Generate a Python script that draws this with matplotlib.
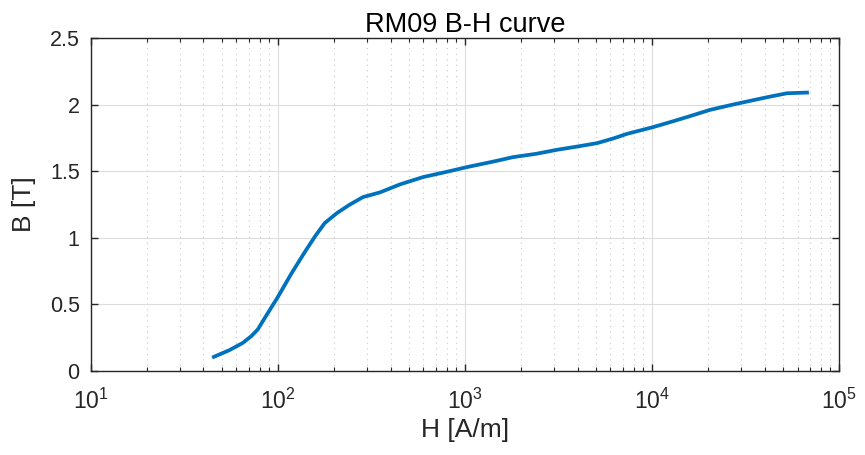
import numpy as np
import matplotlib
matplotlib.use('Agg')
from matplotlib import pyplot as plt
from matplotlib.ticker import LogLocator, FixedLocator, NullFormatter

# B-H curve data
H = [45.5, 55, 65, 72, 78, 88, 100, 118, 139, 158, 178, 207, 240, 285, 351,
     449, 596, 800, 1023, 1400, 1806, 2400, 3100, 4000, 5080, 6200, 7350,
     10100, 13000, 16560, 20400, 27100, 34000, 41200, 52700, 67400]
B = [0.105, 0.155, 0.21, 0.26, 0.31, 0.43, 0.555, 0.73, 0.89, 1.01, 1.11,
     1.185, 1.245, 1.305, 1.34, 1.40, 1.455, 1.495, 1.53, 1.57, 1.605, 1.63,
     1.66, 1.685, 1.71, 1.745, 1.78, 1.83, 1.875, 1.92, 1.96, 2.0, 2.03,
     2.055, 2.085, 2.09]

y_ticks = [0, 0.5, 1, 1.5, 2, 2.5]
y_labels = ['0', '0.5', '1', '1.5', '2', '2.5']

plt.rcParams['font.family'] = ['Liberation Sans', 'DejaVu Sans']
plt.rcParams['mathtext.fontset'] = 'custom'
plt.rcParams['mathtext.rm'] = 'Liberation Sans'
plt.rcParams['mathtext.it'] = 'Liberation Sans'
plt.rcParams['mathtext.default'] = 'regular'

fig = plt.figure(figsize=(8.65, 4.55), dpi=100)
ax = fig.add_axes([0.105, 0.185, 0.865, 0.7315])

ax.plot(H, B, color='#0072BD', linewidth=2.7, solid_joinstyle='round')

ax.set_xscale('log')
ax.set_xlim(10, 1e5)
ax.set_ylim(0, 2.5)
ax.yaxis.set_major_locator(FixedLocator(y_ticks))
ax.set_yticklabels(y_labels)
ax.xaxis.set_minor_locator(LogLocator(base=10, subs=np.arange(2, 10)))
ax.xaxis.set_minor_formatter(NullFormatter())

ax.grid(True, which='major', color='#dcdcdc', linewidth=0.8)
ax.grid(True, which='minor', axis='x', color='#c8c8c8', linestyle=(0, (1, 4)), linewidth=0.8)

ax.tick_params(which='both', direction='in', top=True, right=True,
               colors='#262626', labelsize=15.5)
ax.tick_params(which='major', length=5, width=1)
ax.tick_params(which='minor', length=3, width=0.8)
ax.tick_params(axis='x', which='major', pad=13, labelsize=16.5)
ax.tick_params(axis='y', which='major', pad=8)
for s in ax.spines.values():
    s.set_color('#262626')
    s.set_linewidth(1.0)

ax.set_xlabel('H [A/m]', fontsize=19, color='#262626', labelpad=3)
ax.set_ylabel('B [T]', fontsize=19, color='#262626', labelpad=10)
ax.set_title('RM09 B-H curve', fontsize=19.5, color='#000000', pad=4)

fig.savefig('out.png', dpi=100)
